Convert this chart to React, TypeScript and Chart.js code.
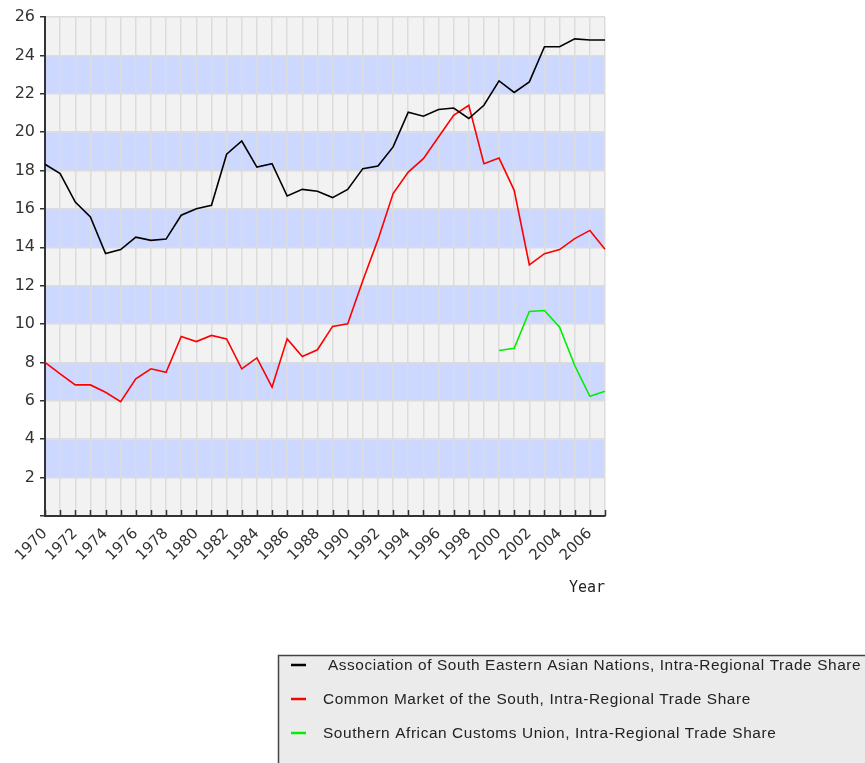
import { useEffect, useRef } from 'react';
import { Chart, registerables } from 'chart.js';

Chart.register(...registerables);

const years = [
  '1970', '1971', '1972', '1973', '1974', '1975', '1976', '1977', '1978', '1979',
  '1980', '1981', '1982', '1983', '1984', '1985', '1986', '1987', '1988', '1989',
  '1990', '1991', '1992', '1993', '1994', '1995', '1996', '1997', '1998', '1999',
  '2000', '2001', '2002', '2003', '2004', '2005', '2006', '2007',
];

const asean = [
  18.33, 17.84, 16.36, 15.58, 13.67, 13.88, 14.53, 14.36, 14.43, 15.67,
  16.01, 16.19, 18.85, 19.54, 18.18, 18.36, 16.67, 17.02, 16.92, 16.59,
  17.02, 18.1, 18.24, 19.23, 21.04, 20.83, 21.18, 21.26, 20.71, 21.4,
  22.67, 22.07, 22.62, 24.45, 24.45, 24.86, 24.8, 24.8,
];

const mercosur = [
  8.01, 7.41, 6.83, 6.83, 6.45, 5.96, 7.15, 7.67, 7.49, 9.35,
  9.09, 9.41, 9.23, 7.67, 8.24, 6.71, 9.23, 8.31, 8.66, 9.88,
  10.02, 12.27, 14.4, 16.8, 17.92, 18.62, 19.75, 20.88, 21.4, 18.36,
  18.65, 16.97, 13.09, 13.67, 13.88, 14.45, 14.88, 13.9,
];

const sacu = [
  null, null, null, null, null, null, null, null, null, null,
  null, null, null, null, null, null, null, null, null, null,
  null, null, null, null, null, null, null, null, null, null,
  8.62, 8.74, 10.66, 10.71, 9.84, 7.84, 6.24, 6.5,
];

const seriesLabels = [
  ' Association of South Eastern Asian Nations, Intra-Regional Trade Share',
  'Common Market of the South, Intra-Regional Trade Share',
  'Southern African Customs Union, Intra-Regional Trade Share',
];
const seriesColors = ['#000000', '#ff0000', '#00ee00'];

const yMin = 0;
const yMax = 26;
const yStep = 2;
const xTitle = 'Year';

const BAND_GRAY = '#f2f2f2';
const BAND_BLUE = '#ccd8ff';

const bandPlugin = {
  id: 'bands',
  beforeDraw(chart: any) {
    const { ctx, chartArea, scales } = chart;
    const y = scales.y;
    ctx.save();
    let i = 0;
    for (let v = yMin; v < yMax; v += yStep) {
      const top = y.getPixelForValue(v + yStep);
      const bottom = y.getPixelForValue(v);
      ctx.fillStyle = i % 2 === 1 ? BAND_BLUE : BAND_GRAY;
      ctx.fillRect(chartArea.left, top, chartArea.right - chartArea.left, bottom - top);
      i++;
    }
    ctx.restore();
  },
};

const innerTicksPlugin = {
  id: 'innerTicks',
  beforeDatasetsDraw(chart: any) {
    const { ctx, chartArea, scales } = chart;
    const x = scales.x;
    ctx.save();
    ctx.strokeStyle = '#333333';
    ctx.lineWidth = 1.5;
    ctx.beginPath();
    for (let i = 0; i < years.length; i++) {
      const px = Math.round(x.getPixelForValue(i)) + 0.5;
      ctx.moveTo(px, chartArea.bottom);
      ctx.lineTo(px, chartArea.bottom - 6);
    }
    ctx.stroke();
    ctx.restore();
  },
};

const legendPlugin = {
  id: 'boxLegend',
  afterDraw(chart: any) {
    const { ctx } = chart;
    ctx.save();
    const bx = 278.5;
    const by = 655.5;
    ctx.fillStyle = '#ebebeb';
    ctx.fillRect(bx, by, 700, 200);
    ctx.strokeStyle = '#444444';
    ctx.lineWidth = 1.5;
    ctx.strokeRect(bx, by, 700, 200);
    ctx.font = '15.4px "Liberation Sans", Arial, sans-serif';
    ctx.textBaseline = 'middle';
    ctx.textAlign = 'left';
    chart.data.datasets.forEach((ds: any, i: number) => {
      const cy = 665 + i * 34;
      ctx.strokeStyle = ds.borderColor;
      ctx.lineWidth = 2.5;
      ctx.beginPath();
      ctx.moveTo(291, cy);
      ctx.lineTo(306, cy);
      ctx.stroke();
      ctx.fillStyle = '#222222';
      (ctx as any).letterSpacing = '0.6px';
      ctx.fillText(ds.label, 323, cy + 1);
      (ctx as any).letterSpacing = '0px';
    });
    ctx.restore();
  },
};

export default function App() {
  const ref = useRef<HTMLCanvasElement | null>(null);

  useEffect(() => {
    if (!ref.current) return;
    const datasets = [asean, mercosur, sacu].map((d, i) => ({
      label: seriesLabels[i],
      data: d,
      borderColor: seriesColors[i],
      backgroundColor: seriesColors[i],
      borderWidth: 1.6,
      pointRadius: 0,
      tension: 0,
      fill: false,
    }));
    const chart = new Chart(ref.current, {
      type: 'line',
      data: { labels: years, datasets },
      options: {
        animation: false,
        responsive: false,
        layout: { padding: { top: 17, right: 260, bottom: 166, left: 0 } },
        plugins: {
          legend: { display: false },
          tooltip: { enabled: false },
        },
        scales: {
          x: {
            type: 'category',
            offset: false,
            grid: {
              color: '#dcdcdc',
              lineWidth: 1.5,
              drawTicks: false,
            },
            border: { color: '#333333', width: 2 },
            ticks: {
              autoSkip: false,
              maxRotation: 45,
              minRotation: 45,
              padding: 9,
              color: '#333333',
              font: { family: '"DejaVu Sans", sans-serif', size: 15 },
              callback: (_v: any, i: number) => (i % 2 === 0 ? years[i] : ''),
            },
            title: {
              display: true,
              text: xTitle,
              align: 'end',
              color: '#222222',
              font: { family: '"DejaVu Sans Mono", monospace', size: 15 },
              padding: { top: 0, bottom: 0 },
            },
            afterFit: (s: any) => {
              s.height = 81;
            },
          },
          y: {
            min: yMin,
            max: yMax,
            grid: {
              color: '#dcdcdc',
              lineWidth: 1.5,
              tickColor: '#333333',
              tickLength: 5,
              tickWidth: 1.5,
            },
            border: { color: '#333333', width: 2 },
            ticks: {
              stepSize: yStep,
              padding: 5,
              color: '#333333',
              font: { family: '"DejaVu Sans", sans-serif', size: 16 },
              callback: (v: any) => (v === 0 ? '' : String(v)),
            },
            afterFit: (s: any) => {
              s.width = 45;
            },
          },
        },
      },
      plugins: [bandPlugin, innerTicksPlugin, legendPlugin],
    });
    return () => chart.destroy();
  }, []);

  return (
    <div style={{ position: 'fixed', left: 0, top: 0, width: 865, height: 763, background: '#ffffff' }}>
      <canvas ref={ref} width={865} height={763} style={{ display: 'block' }} />
    </div>
  );
}
